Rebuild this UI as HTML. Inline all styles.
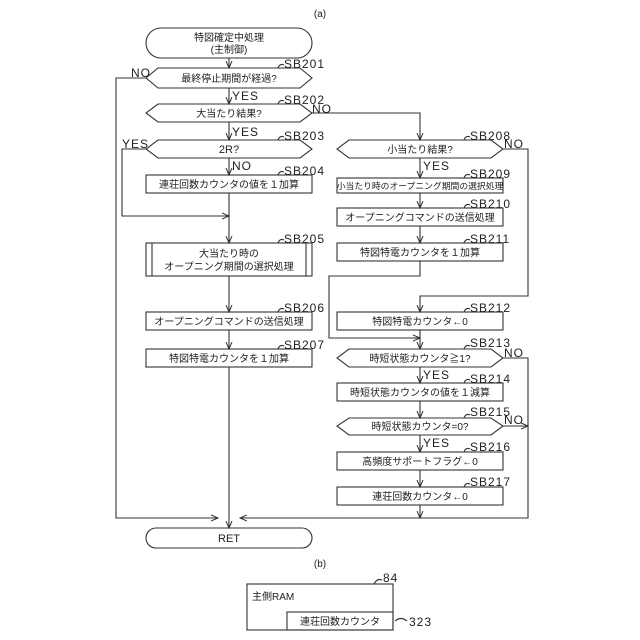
<!DOCTYPE html>
<html><head><meta charset="utf-8"><style>
html,body{margin:0;padding:0;background:#fff}
svg{display:block}
text{font-family:"Liberation Sans","Noto Sans CJK JP",sans-serif;fill:#222}
.t{font-size:10px;text-anchor:middle}
.l{font-size:12px;letter-spacing:1px}
</style></head><body>
<svg width="640" height="640" viewBox="0 0 640 640" xmlns="http://www.w3.org/2000/svg">
<defs><marker id="a" markerWidth="8" markerHeight="8" refX="7" refY="4" orient="auto" markerUnits="userSpaceOnUse"><path d="M0,1 L7,4 L0,7" fill="none" stroke="#333" stroke-width="1"/></marker></defs>
<g fill="none" stroke="#333" stroke-width="1.1">
<rect x="146" y="28" width="166" height="30" rx="15"/>
<path d="M158,68 H300 L312,78 L300,88 H158 L146,78 Z"/>
<path d="M158,104 H300 L312,113 L300,122 H158 L146,113 Z"/>
<path d="M158,140 H300 L312,149 L300,158 H158 L146,149 Z"/>
<path d="M349,140 H491 L503,149 L491,158 H349 L337,149 Z"/>
<path d="M349,349 H491 L503,358 L491,367 H349 L337,358 Z"/>
<path d="M349,418 H491 L503,426 L491,435 H349 L337,426 Z"/>
<rect x="146" y="175" width="166" height="18"/>
<rect x="146" y="243" width="166" height="33"/>
<line x1="152" y1="243" x2="152" y2="276"/><line x1="306" y1="243" x2="306" y2="276"/>
<rect x="146" y="312" width="166" height="18"/>
<rect x="146" y="349" width="166" height="18"/>
<rect x="337" y="178" width="166" height="15"/>
<rect x="337" y="208" width="166" height="18"/>
<rect x="337" y="243" width="166" height="18"/>
<rect x="337" y="312" width="166" height="18"/>
<rect x="337" y="383" width="166" height="18"/>
<rect x="337" y="452" width="166" height="18"/>
<rect x="337" y="487" width="166" height="18"/>
<rect x="146" y="528" width="166" height="20" rx="10"/>
<line x1="229" y1="58" x2="229" y2="68" marker-end="url(#a)"/>
<line x1="229" y1="88" x2="229" y2="104" marker-end="url(#a)"/>
<line x1="229" y1="122" x2="229" y2="140" marker-end="url(#a)"/>
<line x1="229" y1="158" x2="229" y2="175" marker-end="url(#a)"/>
<line x1="229" y1="193" x2="229" y2="243" marker-end="url(#a)"/>
<polyline points="146,149 122,149 122,216 229,216" marker-end="url(#a)"/>
<line x1="229" y1="276" x2="229" y2="312" marker-end="url(#a)"/>
<line x1="229" y1="330" x2="229" y2="349" marker-end="url(#a)"/>
<line x1="229" y1="367" x2="229" y2="528" marker-end="url(#a)"/>
<polyline points="146,78 116,78 116,518 218,518" marker-end="url(#a)"/>
<polyline points="528,426 528,518 240,518" marker-end="url(#a)"/>
<polyline points="312,113 420,113 420,140" marker-end="url(#a)"/>
<line x1="420" y1="158" x2="420" y2="178" marker-end="url(#a)"/>
<line x1="420" y1="193" x2="420" y2="208" marker-end="url(#a)"/>
<line x1="420" y1="226" x2="420" y2="243" marker-end="url(#a)"/>
<polyline points="420,261 420,276 329,276 329,338 420,338"/>
<polyline points="503,149 528,149 528,296 420,296 420,312" marker-end="url(#a)"/>
<line x1="420" y1="330" x2="420" y2="349" marker-end="url(#a)"/>
<line x1="414" y1="338" x2="420" y2="338" marker-end="url(#a)"/>
<line x1="420" y1="367" x2="420" y2="383" marker-end="url(#a)"/>
<line x1="420" y1="401" x2="420" y2="418" marker-end="url(#a)"/>
<line x1="420" y1="435" x2="420" y2="452" marker-end="url(#a)"/>
<line x1="420" y1="470" x2="420" y2="487" marker-end="url(#a)"/>
<line x1="420" y1="505" x2="420" y2="518" marker-end="url(#a)"/>
<polyline points="503,358 528,358 528,426"/>
<line x1="503" y1="426" x2="528" y2="426" marker-end="url(#a)"/>
<rect x="247" y="584" width="146" height="46"/>
<rect x="287" y="612" width="106" height="18"/>
<path d="M374,584 q3,-6 8,-4"/>
<path d="M395,621 q6,-5 12,0"/>
<path d="M278,68 q2,-5 6,-3"/><path d="M278,104 q2,-5 6,-3"/><path d="M278,140 q2,-5 6,-3"/>
<path d="M278,175 q2,-5 6,-3"/><path d="M278,243 q2,-5 6,-3"/><path d="M278,312 q2,-5 6,-3"/><path d="M278,349 q2,-5 6,-3"/>
<path d="M464,140 q2,-5 6,-3"/><path d="M464,178 q2,-5 6,-3"/><path d="M464,208 q2,-5 6,-3"/><path d="M464,243 q2,-5 6,-3"/>
<path d="M464,312 q2,-5 6,-3"/><path d="M464,349 q2,-5 6,-3"/><path d="M464,383 q2,-5 6,-3"/><path d="M464,418 q2,-5 6,-3"/>
<path d="M464,452 q2,-5 6,-3"/><path d="M464,487 q2,-5 6,-3"/>
</g>
<text class="t" x="320" y="17">(a)</text>
<text class="t" x="229" y="41">特図確定中処理</text>
<text class="t" x="229" y="53">(主制御)</text>
<text class="t" x="229" y="82">最終停止期間が経過?</text>
<text class="t" x="229" y="117">大当たり結果?</text>
<text class="t" x="229" y="153" style="font-size:11px">2R?</text>
<text class="t" x="229" y="188">連荘回数カウンタの値を１加算</text>
<text class="t" x="229" y="257">大当たり時の</text>
<text class="t" x="229" y="270">オープニング期間の選択処理</text>
<text class="t" x="229" y="325">オープニングコマンドの送信処理</text>
<text class="t" x="229" y="362">特図特電カウンタを１加算</text>
<text class="t" x="229" y="542" style="font-size:11px">RET</text>
<text class="t" x="420" y="153">小当たり結果?</text>
<text class="t" x="420" y="189" style="font-size:8.8px">小当たり時のオープニング期間の選択処理</text>
<text class="t" x="420" y="221">オープニングコマンドの送信処理</text>
<text class="t" x="420" y="256">特図特電カウンタを１加算</text>
<text class="t" x="420" y="325">特図特電カウンタ←0</text>
<text class="t" x="420" y="362">時短状態カウンタ≧1?</text>
<text class="t" x="420" y="396">時短状態カウンタの値を１減算</text>
<text class="t" x="420" y="430">時短状態カウンタ=0?</text>
<text class="t" x="420" y="465">高頻度サポートフラグ←0</text>
<text class="t" x="420" y="500">連荘回数カウンタ←0</text>
<text class="t" x="320" y="567">(b)</text>
<text x="252" y="600" style="font-size:10px">主側RAM</text>
<text class="t" x="340" y="625">連荘回数カウンタ</text>
<text class="l" x="383" y="582">84</text>
<text class="l" x="409" y="626">323</text>
<g class="l">
<text x="284" y="68">SB201</text><text x="284" y="104">SB202</text><text x="284" y="140">SB203</text>
<text x="284" y="175">SB204</text><text x="284" y="243">SB205</text><text x="284" y="312">SB206</text><text x="284" y="349">SB207</text>
<text x="470" y="140">SB208</text><text x="470" y="178">SB209</text><text x="470" y="208">SB210</text><text x="470" y="243">SB211</text>
<text x="470" y="312">SB212</text><text x="470" y="347">SB213</text><text x="470" y="383">SB214</text><text x="470" y="416">SB215</text>
<text x="470" y="451">SB216</text><text x="470" y="486">SB217</text>
<text x="131" y="77">NO</text><text x="232" y="100">YES</text><text x="312" y="113">NO</text>
<text x="232" y="136">YES</text><text x="122" y="148">YES</text><text x="232" y="170">NO</text>
<text x="423" y="170">YES</text><text x="504" y="148">NO</text>
<text x="504" y="357">NO</text><text x="423" y="379">YES</text><text x="504" y="424">NO</text><text x="423" y="447">YES</text>
</g>
</svg>
</body></html>
